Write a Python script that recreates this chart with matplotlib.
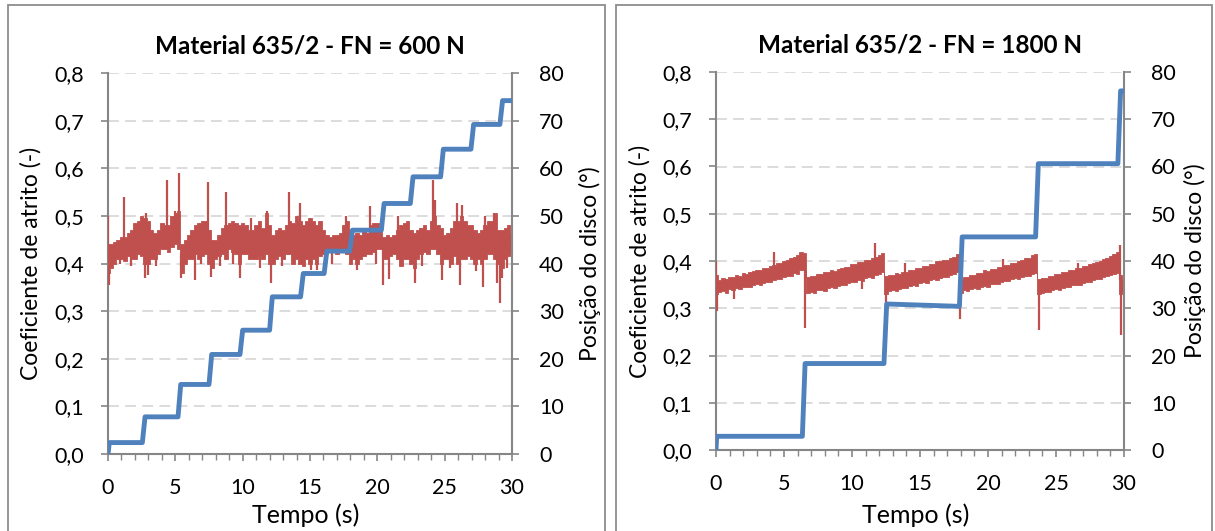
import matplotlib
matplotlib.use("Agg")
import matplotlib.pyplot as plt
import numpy as np
from matplotlib.patches import Rectangle
from matplotlib.ticker import MultipleLocator, FuncFormatter

plt.rcParams["font.family"] = ["Lato", "DejaVu Sans"]

RED = "#C0504D"
BLUE = "#4F81BD"
GRAY = "#868686"
GRID = "#D9D9D9"

# ---- dados ------------------------------------------------------------------
titles = ["Material 635/2 - FN = 600 N", "Material 635/2 - FN = 1800 N"]
t_grid = np.linspace(0, 30, 121)  # passo de 0,25 s

# FN = 600 N : envelope inferior/superior do coeficiente de atrito
mu600_lo = [0.38, 0.39, 0.40, 0.41, 0.41, 0.405, 0.415, 0.41, 0.41, 0.42, 0.415,
            0.40, 0.40, 0.41, 0.41, 0.42, 0.43, 0.43, 0.425, 0.435, 0.44,
            0.43, 0.38, 0.40, 0.41, 0.41, 0.42, 0.41, 0.415, 0.42, 0.40,
            0.39, 0.41, 0.415, 0.42, 0.41, 0.43, 0.425, 0.42, 0.40, 0.42,
            0.42, 0.41, 0.41, 0.41, 0.415, 0.41, 0.42, 0.40, 0.40, 0.41,
            0.415, 0.41, 0.42, 0.42, 0.40, 0.41, 0.40, 0.395, 0.41, 0.40,
            0.41, 0.40, 0.415, 0.42, 0.43, 0.43, 0.425, 0.42, 0.43, 0.425,
            0.42, 0.40, 0.41, 0.40, 0.41, 0.415, 0.42, 0.42, 0.425, 0.43,
            0.43, 0.41, 0.41, 0.415, 0.42, 0.41, 0.395, 0.41, 0.41, 0.40,
            0.39, 0.41, 0.42, 0.425, 0.42, 0.43, 0.43, 0.42, 0.40, 0.41,
            0.41, 0.40, 0.415, 0.40, 0.41, 0.41, 0.415, 0.41, 0.40, 0.41,
            0.40, 0.41, 0.42, 0.42, 0.41, 0.40, 0.39, 0.41, 0.415, 0.42]
mu600_hi = [0.44, 0.44, 0.445, 0.45, 0.455, 0.455, 0.465, 0.47, 0.485, 0.49, 0.50,
            0.495, 0.49, 0.47, 0.465, 0.47, 0.485, 0.48, 0.48, 0.50, 0.505,
            0.51, 0.44, 0.45, 0.46, 0.47, 0.48, 0.485, 0.49, 0.49, 0.47,
            0.45, 0.45, 0.46, 0.475, 0.48, 0.485, 0.49, 0.485, 0.48, 0.485,
            0.48, 0.47, 0.47, 0.48, 0.49, 0.475, 0.505, 0.48, 0.46, 0.47,
            0.475, 0.47, 0.48, 0.49, 0.485, 0.50, 0.49, 0.48, 0.49, 0.495,
            0.49, 0.48, 0.49, 0.47, 0.46, 0.455, 0.46, 0.46, 0.465, 0.48,
            0.49, 0.47, 0.46, 0.465, 0.46, 0.47, 0.465, 0.48, 0.485, 0.485,
            0.475, 0.455, 0.46, 0.455, 0.46, 0.47, 0.48, 0.485, 0.49, 0.47,
            0.465, 0.47, 0.475, 0.48, 0.47, 0.49, 0.50, 0.48, 0.475, 0.46,
            0.465, 0.475, 0.49, 0.49, 0.50, 0.49, 0.48, 0.48, 0.47, 0.465,
            0.47, 0.48, 0.49, 0.49, 0.505, 0.47, 0.47, 0.475, 0.48, 0.465]
# picos isolados (tempo, valor)
spk600_t = [0.0, 0.05, 1.2, 2.85, 2.75, 3.0, 4.35, 4.95, 5.25, 5.45, 6.45, 7.45,
            7.65, 8.75, 9.8, 10.65, 11.8, 12.1, 13.45, 14.25, 15.1, 15.5, 17.7,
            18.5, 19.45, 20.4, 20.9, 21.5, 22.8, 24.1, 24.3, 24.8, 25.9, 26.15,
            26.3, 27.85, 28.0, 28.7, 28.85, 29.1, 29.25,
            0.9, 1.7, 3.6, 6.9, 8.3, 9.3, 11.3, 12.9, 16.6, 19.9, 23.3, 25.4,
            27.3, 29.6]
spk600_v = [0.50, 0.355, 0.54, 0.505, 0.37, 0.375, 0.575, 0.51, 0.59, 0.37, 0.365,
            0.572, 0.372, 0.55, 0.37, 0.495, 0.51, 0.36, 0.55, 0.526, 0.386,
            0.386, 0.50, 0.386, 0.52, 0.355, 0.368, 0.50, 0.36, 0.575, 0.533,
            0.365, 0.526, 0.355, 0.522, 0.35, 0.50, 0.505, 0.36, 0.317, 0.37,
            0.40, 0.395, 0.395, 0.40, 0.395, 0.40, 0.39, 0.395, 0.40, 0.40,
            0.395, 0.39, 0.385, 0.39]

# FN = 1800 N
mu1800_lo = [0.330, 0.335, 0.337, 0.333, 0.340, 0.338, 0.342, 0.340, 0.345, 0.346, 0.344,
             0.350, 0.351, 0.349, 0.354, 0.356, 0.355, 0.360, 0.362, 0.361, 0.367,
             0.369, 0.368, 0.374, 0.373, 0.380, 0.380,
             0.332, 0.334, 0.333, 0.338, 0.339, 0.337, 0.343, 0.344, 0.342, 0.348,
             0.350, 0.349, 0.354, 0.356, 0.355, 0.360, 0.358, 0.363, 0.366, 0.364,
             0.370, 0.373, 0.376,
             0.330, 0.336, 0.338, 0.337, 0.341, 0.343, 0.342, 0.347, 0.349, 0.347,
             0.353, 0.355, 0.354, 0.359, 0.361, 0.360, 0.365, 0.367, 0.366, 0.371,
             0.373, 0.376,
             0.332, 0.338, 0.336, 0.341, 0.342, 0.341, 0.346, 0.347, 0.346, 0.351,
             0.352, 0.351, 0.356, 0.358, 0.357, 0.361, 0.363, 0.362, 0.366, 0.368,
             0.368, 0.373, 0.375,
             0.330, 0.333, 0.335, 0.334, 0.338, 0.340, 0.339, 0.343, 0.345, 0.344,
             0.349, 0.350, 0.349, 0.354, 0.356, 0.355, 0.360, 0.362, 0.362, 0.366,
             0.368, 0.370, 0.372, 0.374, 0.330, 0.335]
mu1800_hi = [0.370, 0.360, 0.364, 0.362, 0.367, 0.366, 0.371, 0.369, 0.374, 0.373, 0.377,
             0.378, 0.382, 0.380, 0.385, 0.386, 0.390, 0.391, 0.396, 0.395, 0.401,
             0.403, 0.406, 0.409, 0.413, 0.418, 0.417,
             0.366, 0.369, 0.368, 0.373, 0.372, 0.376, 0.377, 0.380, 0.379, 0.384,
             0.385, 0.388, 0.388, 0.393, 0.393, 0.398, 0.397, 0.402, 0.403, 0.407,
             0.408, 0.412, 0.416,
             0.368, 0.371, 0.370, 0.374, 0.373, 0.377, 0.377, 0.381, 0.380, 0.385,
             0.386, 0.390, 0.389, 0.394, 0.394, 0.399, 0.399, 0.403, 0.403, 0.407,
             0.409, 0.414,
             0.362, 0.367, 0.367, 0.371, 0.371, 0.375, 0.375, 0.380, 0.379, 0.384,
             0.384, 0.388, 0.387, 0.392, 0.392, 0.396, 0.396, 0.400, 0.402, 0.406,
             0.407, 0.412, 0.415,
             0.362, 0.365, 0.365, 0.369, 0.369, 0.373, 0.373, 0.377, 0.377, 0.381,
             0.381, 0.385, 0.385, 0.390, 0.390, 0.394, 0.395, 0.398, 0.400, 0.404,
             0.406, 0.411, 0.414, 0.420, 0.370, 0.360]
spk1800_t = [0.0, 0.05, 1.3, 4.3, 6.55, 10.7, 11.7, 12.5, 13.9, 17.95, 21.1,
             23.75, 26.6, 29.7, 29.78]
spk1800_v = [0.40, 0.295, 0.32, 0.418, 0.258, 0.34, 0.439, 0.27, 0.395, 0.278,
             0.405, 0.254, 0.395, 0.434, 0.244]

# posição do disco (°)
pos600_t = [0, 0.1, 2.55, 2.75, 5.2, 5.4, 7.5, 7.7, 9.8, 10.0, 12.0, 12.2,
            14.3, 14.5, 16.05, 16.25, 17.95, 18.15, 20.3, 20.5, 22.45, 22.65,
            24.7, 24.9, 26.95, 27.15, 29.1, 29.3, 30]
pos600_v = [0, 2.4, 2.4, 7.8, 7.8, 14.6, 14.6, 20.9, 20.9, 26.0, 26.0, 33.0,
            33.0, 37.9, 37.9, 42.6, 42.6, 47.0, 47.0, 52.6, 52.6, 58.2,
            58.2, 64.0, 64.0, 69.2, 69.2, 74.2, 74.2]
pos1800_t = [0, 0.05, 6.35, 6.55, 12.35, 12.55, 17.9, 18.1, 23.5, 23.7,
             29.55, 29.75, 30]
pos1800_v = [0, 2.9, 2.9, 18.3, 18.3, 30.9, 30.4, 45.1, 45.1, 60.6,
             60.6, 76.0, 76.0]

panels = [
    dict(title=titles[0], lo=mu600_lo, hi=mu600_hi, st=spk600_t, sv=spk600_v,
         pt=pos600_t, pv=pos600_v),
    dict(title=titles[1], lo=mu1800_lo, hi=mu1800_hi, st=spk1800_t, sv=spk1800_v,
         pt=pos1800_t, pv=pos1800_v),
]

# ---- figura -----------------------------------------------------------------
W, H = 1215, 531
fig = plt.figure(figsize=(W / 100, H / 100), dpi=100)

# caixas das duas figuras (px: x0, x1)
for x0, x1 in [(8, 605), (616, 1212)]:
    fig.add_artist(Rectangle((x0 / W, -0.05), (x1 - x0) / W, 1.05 - 5 / H,
                             transform=fig.transFigure, fill=False,
                             edgecolor="#8C8C8C", lw=1.3))

# posições em px: eixo (esq, dir, topo, base), rótulo y esq (borda dir),
# rótulo y dir (borda esq), topo do rótulo x
boxes = [(108, 512, 73, 454, 42, 579, 503),
         (716, 1124, 72, 450, 651, 1184, 503)]

comma = FuncFormatter(lambda v, _: f"{v:.1f}".replace(".", ","))
FS = 15.5

for p, (l, r, tp, b, yl, yr, xl) in zip(panels, boxes):
    w, h = r - l, b - tp
    ax = fig.add_axes([l / W, 1 - b / H, w / W, h / H])
    ax2 = ax.twinx()

    lo = np.array(p["lo"])
    hi = np.array(p["hi"])
    ax.fill_between(t_grid, lo, hi, step="mid", color=RED, lw=0.6, zorder=3)
    base = np.interp(p["st"], t_grid, (lo + hi) / 2)
    ax.vlines(p["st"], base, p["sv"], color=RED, lw=1.6, zorder=3)

    ax2.plot(p["pt"], p["pv"], color=BLUE, lw=3.5, solid_capstyle="butt",
             solid_joinstyle="round", zorder=4)

    ax.set_xlim(0, 30)
    ax.set_ylim(0, 0.8)
    ax2.set_ylim(0, 80)
    ax.xaxis.set_major_locator(MultipleLocator(5))
    ax.xaxis.set_minor_locator(MultipleLocator(1))
    ax.yaxis.set_major_locator(MultipleLocator(0.1))
    ax.yaxis.set_major_formatter(comma)
    ax2.yaxis.set_major_locator(MultipleLocator(10))

    for v in np.arange(0.1, 0.81, 0.1):
        ax.axhline(v, color=GRID, lw=1.3, dashes=(6, 3.5), zorder=1)

    for a in (ax, ax2):
        for s in a.spines.values():
            s.set_visible(False)
        a.patch.set_visible(False)
    ax.spines["left"].set_visible(True)
    ax.spines["bottom"].set_visible(True)
    ax2.spines["right"].set_visible(True)
    for s in (ax.spines["left"], ax.spines["bottom"], ax2.spines["right"]):
        s.set_color(GRAY)
        s.set_linewidth(1.5)

    ax.tick_params(axis="y", direction="out", length=5, width=1.2, color=GRAY,
                   labelsize=FS, pad=12)
    ax2.tick_params(axis="y", direction="out", length=5, width=1.2, color=GRAY,
                    labelsize=FS, pad=14.5)
    ax.tick_params(axis="x", which="major", direction="out", length=5, width=1.2,
                   color=GRAY, labelsize=FS, pad=12)
    ax.tick_params(axis="x", which="minor", direction="out", length=4, width=1.0,
                   color=GRAY)

    ax.set_title(p["title"], fontsize=17.5, fontweight="bold", pad=14)
    ax.set_xlabel("Tempo (s)", fontsize=18)
    ax.set_ylabel("Coeficiente de atrito (-)", fontsize=16.5)
    ax2.set_ylabel("Posição do disco (°)", fontsize=16.5)
    ax.yaxis.set_label_coords((yl - l) / w, 0.5)
    ax2.yaxis.set_label_coords((yr - l) / w, 0.5)
    ax.xaxis.set_label_coords(0.49, (b - xl) / h)

fig.savefig("out.png", dpi=100)
